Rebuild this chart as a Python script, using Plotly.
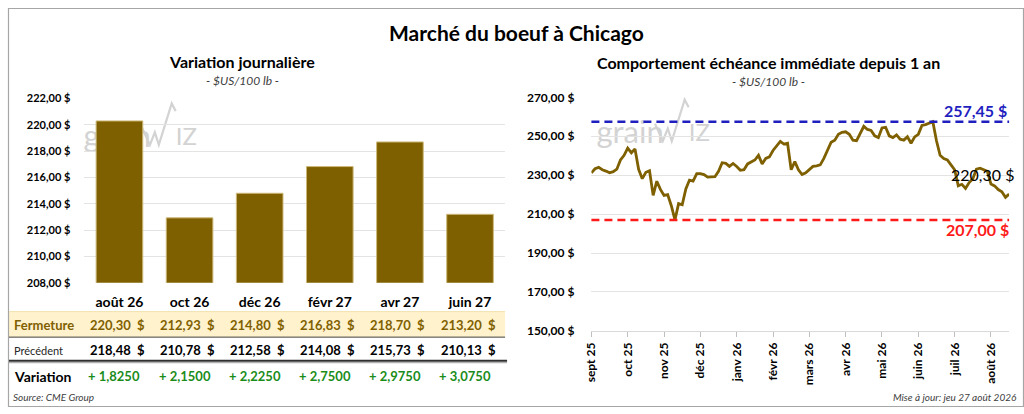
import plotly.graph_objects as go

W, H = 1024, 414
FONT = "Lato"
BROWN = "#7F6000"


def px(x):
    return x / W


def py(y):
    return 1 - y / H


# Variation journalière (contrats)
contracts = ["août 26", "oct 26", "déc 26", "févr 27", "avr 27", "juin 27"]
closes = [220.30, 212.93, 214.80, 216.83, 218.70, 213.20]
previous = [218.48, 210.78, 212.58, 214.08, 215.73, 210.13]
changes = [1.8250, 2.1500, 2.2250, 2.7500, 2.9750, 3.0750]

# Echéance immédiate depuis 1 an
dates = [
    "2025-09-01", "2025-09-04", "2025-09-07", "2025-09-10", "2025-09-13", "2025-09-16", "2025-09-19", "2025-09-22", "2025-09-25", "2025-09-28",
    "2025-10-01", "2025-10-04", "2025-10-07", "2025-10-10", "2025-10-13", "2025-10-16", "2025-10-19", "2025-10-22", "2025-10-25", "2025-10-28",
    "2025-11-01", "2025-11-04", "2025-11-07", "2025-11-10", "2025-11-13", "2025-11-16", "2025-11-19", "2025-11-22", "2025-11-25", "2025-11-28",
    "2025-12-01", "2025-12-04", "2025-12-07", "2025-12-10", "2025-12-13", "2025-12-16", "2025-12-19", "2025-12-22", "2025-12-25", "2025-12-28",
    "2026-01-01", "2026-01-04", "2026-01-07", "2026-01-10", "2026-01-13", "2026-01-16", "2026-01-19", "2026-01-22", "2026-01-25", "2026-01-28",
    "2026-02-01", "2026-02-04", "2026-02-07", "2026-02-10", "2026-02-13", "2026-02-16", "2026-02-19", "2026-02-22", "2026-02-25", "2026-02-28",
    "2026-03-01", "2026-03-04", "2026-03-07", "2026-03-10", "2026-03-13", "2026-03-16", "2026-03-19", "2026-03-22", "2026-03-25", "2026-03-28",
    "2026-04-01", "2026-04-04", "2026-04-07", "2026-04-10", "2026-04-13", "2026-04-16", "2026-04-19", "2026-04-22", "2026-04-25", "2026-04-28",
    "2026-05-01", "2026-05-04", "2026-05-07", "2026-05-10", "2026-05-13", "2026-05-16", "2026-05-19", "2026-05-22", "2026-05-25", "2026-05-28",
    "2026-06-01", "2026-06-04", "2026-06-07", "2026-06-10", "2026-06-13", "2026-06-16", "2026-06-19", "2026-06-22", "2026-06-25", "2026-06-28",
    "2026-07-01", "2026-07-04", "2026-07-07", "2026-07-10", "2026-07-13", "2026-07-16", "2026-07-19", "2026-07-22", "2026-07-25", "2026-07-28",
    "2026-08-01", "2026-08-06", "2026-08-11", "2026-08-16", "2026-08-21", "2026-08-27",
]
prices = [
    231.2, 233.3, 234.0, 232.8, 232.1, 231.2, 231.8, 233.1, 237.8, 240.2,
    243.9, 241.5, 243.5, 233.0, 228.2, 231.5, 232.3, 219.6, 226.9, 222.7,
    219.6, 220.0, 214.3, 207.00, 215.4, 214.8, 222.9, 227.5, 227.0, 230.8,
    230.8, 230.3, 229.0, 229.2, 229.2, 232.0, 236.4, 236.1, 234.5, 236.0,
    234.5, 232.5, 232.8, 235.8, 237.0, 237.8, 240.2, 235.8, 238.6, 239.4,
    242.7, 245.2, 247.4, 246.0, 246.4, 232.8, 237.0, 232.8, 230.3, 231.2,
    232.8, 234.5, 234.8, 235.3, 238.6, 242.7, 246.9, 248.0, 251.0, 252.0,
    252.3, 251.0, 248.0, 247.7, 251.3, 255.1, 253.5, 253.0, 250.2, 249.3,
    254.3, 254.6, 250.2, 249.3, 250.7, 248.5, 248.0, 249.7, 246.4, 249.7,
    251.0, 255.6, 256.0, 256.6, 257.45, 247.7, 240.2, 238.6, 237.8, 235.3,
    232.8, 224.5, 225.3, 223.2, 226.2, 228.2, 233.1, 233.6, 232.8, 232.0,
    225.4, 224.5, 222.6, 221.5, 218.6, 220.30,
]
month_ticks = ["2025-09-01", "2025-10-01", "2025-11-01", "2025-12-01", "2026-01-01", "2026-02-01",
               "2026-03-01", "2026-04-01", "2026-05-01", "2026-06-01", "2026-07-01", "2026-08-01"]
month_labels = ["sept 25", "oct 25", "nov 25", "déc 25", "janv 26", "févr 26",
                "mars 26", "avr 26", "mai 26", "juin 26", "juil 26", "août 26"]


def fr(v, dec=2):
    return f"{v:.{dec}f}".replace(".", ",")


fig = go.Figure()

fig.add_trace(go.Bar(
    x=contracts, y=closes, xaxis="x", yaxis="y",
    marker=dict(color=BROWN, line=dict(color="#CDB878", width=1)),
    hoverinfo="skip",
))

fig.add_trace(go.Scatter(
    x=dates, y=prices, xaxis="x2", yaxis="y2", mode="lines",
    line=dict(color=BROWN, width=2.8), hoverinfo="skip",
))

hi, lo, last = max(prices), min(prices), prices[-1]

shapes = [
    # cadre
    dict(type="rect", xref="paper", yref="paper", x0=px(0.5), x1=px(1023.5), y0=py(413.5), y1=py(0.5),
         line=dict(color="#A6A6A6", width=1.2)),
    # tableau
    dict(type="rect", xref="paper", yref="paper", x0=px(1), x1=px(501), y0=py(341.5), y1=py(315),
         fillcolor="#FFF2CC", line=dict(width=0), layer="below"),
    dict(type="line", xref="paper", yref="paper", x0=px(1), x1=px(501), y0=py(315), y1=py(315),
         line=dict(color="#F2E2B0", width=1)),
    dict(type="line", xref="paper", yref="paper", x0=px(1), x1=px(501), y0=py(341.5), y1=py(341.5),
         line=dict(color="#404040", width=1)),
    dict(type="line", xref="paper", yref="paper", x0=px(1), x1=px(503), y0=py(366), y1=py(366),
         line=dict(color="#303030", width=2.2)),
    dict(type="line", xref="paper", yref="paper", x0=px(1), x1=px(503), y0=py(368), y1=py(368),
         line=dict(color="#B0B0B0", width=1.2)),
    # max / min
    dict(type="line", xref="x2 domain", yref="y2", x0=0, x1=1, y0=hi, y1=hi,
         line=dict(color="#1F1FBF", width=2.4, dash="8px,5px")),
    dict(type="line", xref="x2 domain", yref="y2", x0=0, x1=1, y0=lo, y1=lo,
         line=dict(color="#FF1A1A", width=2.4, dash="8px,5px")),
]

# filigrane grainWiz
WM = "#D3D3D3"
for dx, dy in [(0, 0), (-517, 4)]:
    pts = [(652, 120), (660, 138), (665, 125), (669, 138), (682, 95), (686, 103)]
    path = "M " + " L ".join(f"{px(a + dx)},{py(b + dy)}" for a, b in pts)
    shapes.append(dict(type="path", xref="paper", yref="paper", path=path,
                       line=dict(color=WM, width=2.2), layer="below"))
    shapes.append(dict(type="rect", xref="paper", yref="paper",
                       x0=px(587 + dx), x1=px(652 + dx), y0=py(142 + dy), y1=py(114 + dy),
                       line=dict(width=0), layer="below",
                       label=dict(text="grain", textposition="middle left",
                                  font=dict(family=FONT, size=31, color=WM))))
    shapes.append(dict(type="rect", xref="paper", yref="paper",
                       x0=px(680 + dx), x1=px(702 + dx), y0=py(140 + dy), y1=py(116 + dy),
                       line=dict(width=0), layer="below",
                       label=dict(text="IZ", textposition="middle left",
                                  font=dict(family=FONT, size=24, color=WM))))

ann = []


def note(text, x, y, size, color="black", xref="paper", xanchor="center", **kw):
    ann.append(dict(text=text, x=x, y=y, xref=xref, yref="paper", showarrow=False,
                    xanchor=xanchor, yanchor="middle", font=dict(family=FONT, size=size, color=color), **kw))


note("<b>Marché du boeuf à Chicago</b>", 0.5, py(25), 21)
note("<b>Variation journalière</b>", px(236), py(55), 16)
note("<i>- $US/100 lb -</i>", px(236), py(75), 12, "#404040")
note("<b>Comportement échéance immédiate depuis 1 an</b>", px(766), py(57), 16)
note("<i>- $US/100 lb -</i>", px(766), py(76), 12, "#404040")

note("<b>Fermeture</b>", px(4), py(329), 13, BROWN, xanchor="left")
note("Précédent", px(4), py(355), 11, "#262626", xanchor="left")
note("<b>Variation</b>", px(4), py(382), 14, xanchor="left")
for c, f, p, v in zip(contracts, closes, previous, changes):
    note(f"<b>{fr(f)}  $</b>", c, py(329), 13, BROWN, xref="x", xshift=-2)
    note(f"<b>{fr(p)}  $</b>", c, py(355), 13, xref="x", xshift=-2)
    note(f"<b>+ {fr(v, 4)}</b>", c, py(382), 13, "#1A8C1A", xref="x", xshift=-5)

note("<i>Source: CME Group</i>", px(3), py(404), 10, "#404040", xanchor="left")
note("<i>Mise à jour: jeu 27 août 2026</i>", px(1019), py(404), 10, "#404040", xanchor="right")

ann.append(dict(text=f"<b>{fr(hi)} $</b>", x=1, xref="x2 domain", y=hi, yref="y2", yshift=11,
                xanchor="right", yanchor="middle", showarrow=False,
                font=dict(family=FONT, size=16, color="#1F1FBF")))
ann.append(dict(text=f"<b>{fr(lo)} $</b>", x=1, xref="x2 domain", y=lo, yref="y2", yshift=-10, xshift=2,
                xanchor="right", yanchor="middle", showarrow=False,
                font=dict(family=FONT, size=16, color="#FF1A1A")))
ann.append(dict(text=f"{fr(last)} $", x=dates[-1], xref="x2", y=last, yref="y2", yshift=20, xshift=7,
                xanchor="right", yanchor="middle", showarrow=False,
                font=dict(family=FONT, size=16, color="black")))

fig.update_layout(
    width=W, height=H, margin=dict(l=0, r=0, t=0, b=0),
    paper_bgcolor="white", plot_bgcolor="white",
    showlegend=False, separators=", ",
    font=dict(family=FONT, color="black"),
    bargap=0.335,
    shapes=shapes, annotations=ann,
    xaxis=dict(domain=[px(77), px(501)], anchor="y", type="category", showgrid=False,
               ticks="", ticklabelstandoff=9,
               tickfont=dict(family=FONT, size=14, color="black", weight="bold")),
    yaxis=dict(domain=[py(285), py(94)], anchor="x", range=[208, 222], dtick=2, tick0=208,
               tickformat=".2f", ticksuffix=" $", gridcolor="#E3E3E3", zeroline=False,
               ticklabelstandoff=13,
               tickfont=dict(family=FONT, size=11, color="black", weight="bold")),
    xaxis2=dict(domain=[px(588), px(1009)], anchor="y2", type="category",
                range=[0, len(dates) - 1], tickvals=month_ticks, ticktext=month_labels,
                tickangle=-90, ticks="outside", ticklen=5, tickcolor="#BFBFBF",
                showline=True, linecolor="#D9D9D9", showgrid=False, ticklabelstandoff=1,
                tickfont=dict(family=FONT, size=12, color="black", weight="bold")),
    yaxis2=dict(domain=[py(335), py(92.7)], anchor="x2", range=[150, 270], dtick=20, tick0=150,
                tickformat=".2f", ticksuffix=" $", gridcolor="#E3E3E3", zeroline=False,
                ticklabelstandoff=16,
                tickfont=dict(family=FONT, size=12, color="black", weight="bold")),
)

# la page sans marge, pour que la figure couvre exactement la fenêtre
pin = (
    "var gd=document.getElementById('{plot_id}');"
    "document.documentElement.style.margin='0';document.body.style.margin='0';"
    "gd.style.position='fixed';gd.style.left='0px';gd.style.top='0px';"
)
fig.write_html("out.html", config={"displayModeBar": False}, post_script=pin)
